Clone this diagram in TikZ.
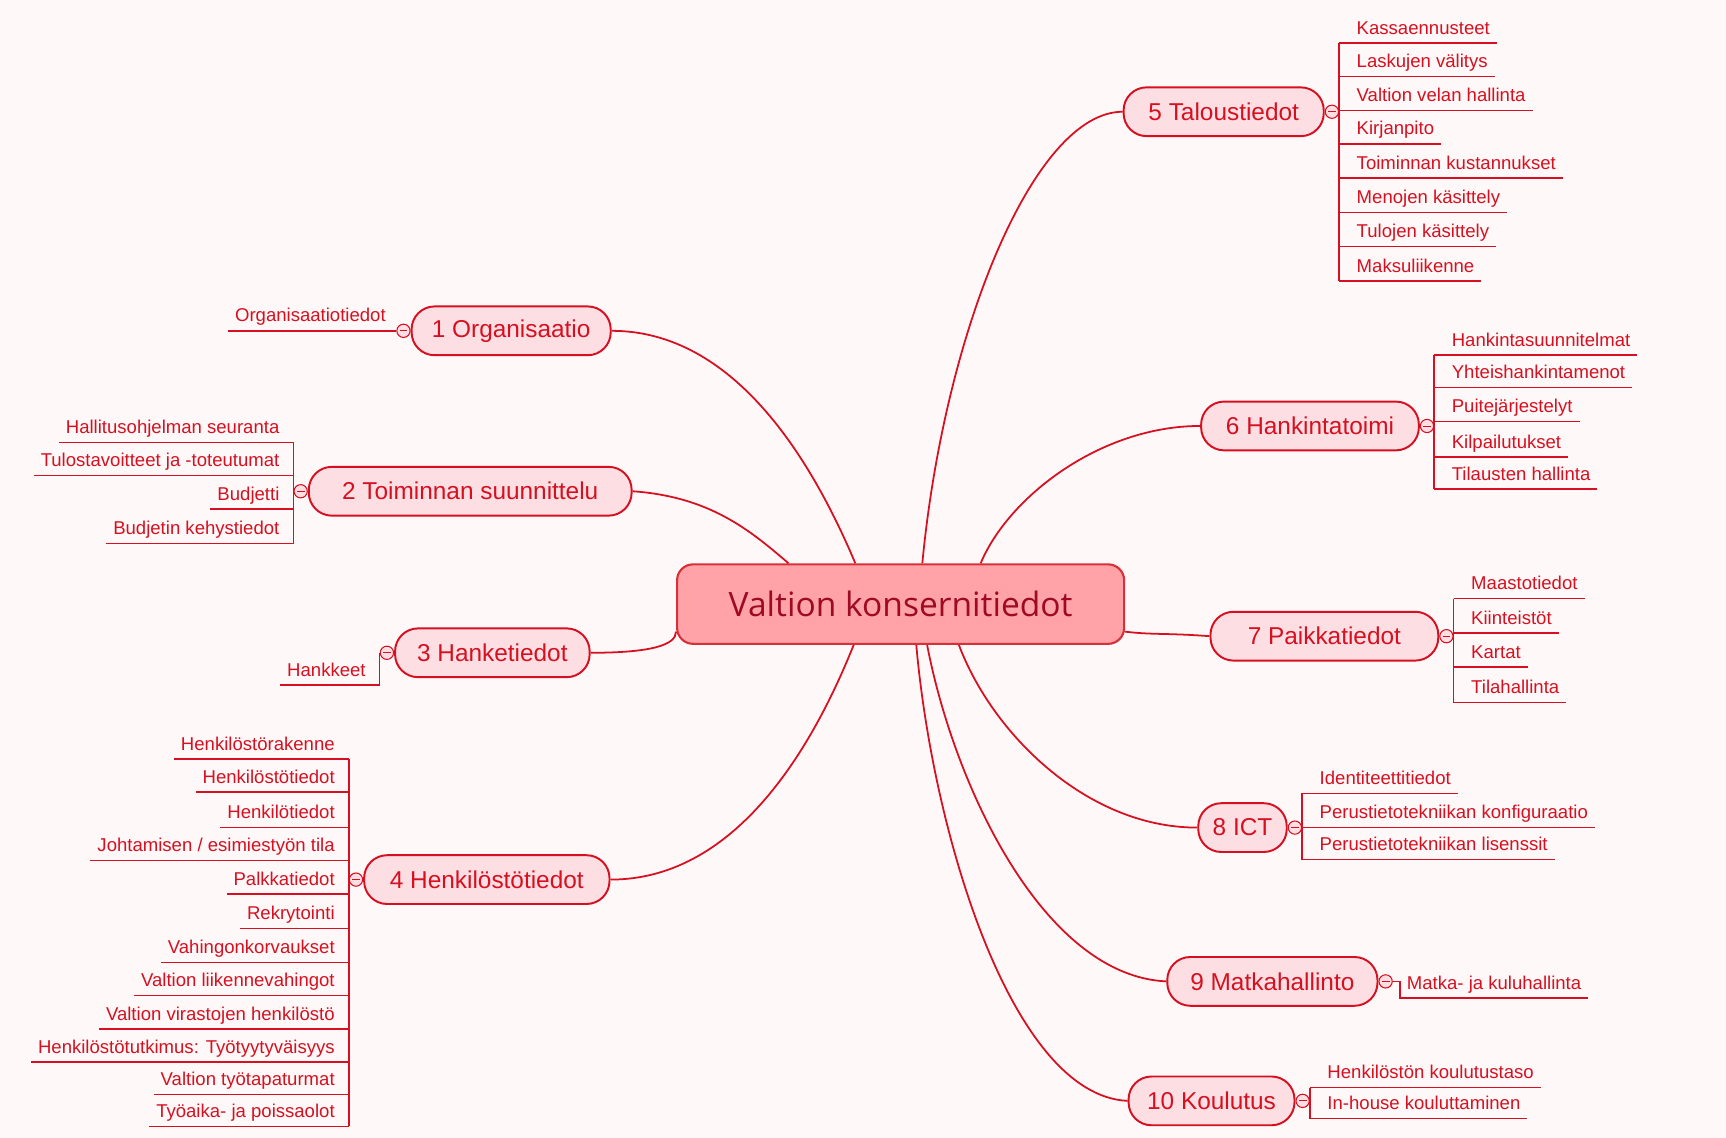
\documentclass[tikz,border=0pt]{standalone}
\usepackage{fontspec}
\setmainfont{Liberation Sans}
\newfontfamily\rootfont{Open Sans}
\usepackage{tikz}
\usetikzlibrary{positioning}
\definecolor{mmred}{RGB}{214,16,32}
\definecolor{mmpale}{RGB}{253,222,227}
\definecolor{mmroot}{RGB}{255,163,168}
\definecolor{mmrootline}{RGB}{216,48,56}
\definecolor{mmroottext}{RGB}{158,10,36}
\definecolor{mmbg}{RGB}{255,248,248}

\begin{document}
\begin{tikzpicture}[x=0.022cm, y=-0.022cm,
    root/.style={draw=mmrootline, fill=mmroot, line width=1.2pt, rounded corners=9pt,
        minimum width=8.89cm, minimum height=1.58cm, text=mmroottext,
        font=\rootfont\fontsize{19}{22}\selectfont},
    topic/.style={draw=mmred, fill=mmpale, line width=1.1pt, rounded corners=13pt,
        minimum height=0.97cm, inner xsep=3pt, text=mmred, font=\fontsize{13.8}{16}\selectfont},
    leaf/.style={text=mmred, inner xsep=3.8pt, inner ysep=2.5pt, text height=7.6pt,
        text depth=2.3pt, font=\fontsize{10.5}{12}\selectfont},
    knob/.style={circle, draw=mmred, fill=mmpale, line width=0.6pt, minimum size=7.5pt, inner sep=0pt,
        path picture={\draw[mmred, line width=0.5pt] ([xshift=-2.2pt]path picture bounding box.center)
            -- ([xshift=2.2pt]path picture bounding box.center);}},
    link/.style={draw=mmred, line width=1pt},
    twig/.style={draw=mmred, line width=0.8pt}]

    \useasboundingbox (0,0) rectangle (1560,1028.5);
    \fill[mmbg] (0,0) rectangle (1560,1028.5);

    % centre and main topics
    \node[root] (root) at (814,546) {Valtion konsernitiedot};
    \foreach \n/\x/\y/\w/\t in {1/462/299/3.96/1 Organisaatio, 2/425/444/6.42/2 Toiminnan suunnittelu,
            3/445/590/3.87/3 Hanketiedot, 4/440/795/4.88/4 Henkilöstötiedot,
            5/1106/101/3.98/5 Taloustiedot, 6/1184/385/4.33/6 Hankintatoimi,
            7/1197/575/4.53/7 Paikkatiedot, 8/1123/748/1.76/8 ICT,
            9/1150/887/4.18/9 Matkahallinto, 10/1095/995/3.3/10 Koulutus}
        \node[topic, minimum width=\w cm] (b\n) at (\x,\y) {\t};

    % curves to the centre
    \draw[link] (b1.east) .. controls +(110,0) and +(-40,-95) .. (root.138.7);
    \draw[link] (b2.east) .. controls +(70,5) and +(-35,-30) .. (root.160.9);
    \draw[link] (b3.east) .. controls +(55,0) and +(0,12) .. (root.187);
    \draw[link] (b4.east) .. controls +(110,0) and +(-40,100) .. (root.221.3);
    \draw[link] (b5.west) .. controls +(-80,0) and +(20,-210) .. (root.62.2);
    \draw[link] (b6.west) .. controls +(-90,0) and +(25,-60) .. (root.27.9);
    \draw[link] (b7.west) .. controls +(-40,-3) and +(25,3) .. (root.353.2);
    \draw[link] (b8.west) .. controls +(-100,0) and +(30,80) .. (root.325.3);
    \draw[link] (b9.west) .. controls +(-110,-5) and +(25,130) .. (root.303.7);
    \draw[link] (b10.west) .. controls +(-105,-5) and +(15,170) .. (root.291.3);

    % collapse buttons
    \foreach \n in {1,2,3,4}
        \node[knob, left=0pt of b\n] (c\n) {};
    \foreach \n in {5,6,7,8,9,10}
        \node[knob, right=0pt of b\n] (c\n) {};

    % left subtopics
    \foreach \y/\t [count=\i] in {299/Organisaatiotiedot}{
        \coordinate (k1-\i) at (c1.west |- 0,\y);
        \node[leaf, anchor=south east] (l1-\i) at ([xshift=-2pt]k1-\i) {\t};
        \draw[twig] (k1-\i) -- (l1-\i.south west);
    }
    \foreach \y/\t [count=\i] in {400/Hallitusohjelman seuranta, 430/Tulostavoitteet ja -toteutumat,
            460/Budjetti, 491/Budjetin kehystiedot}{
        \coordinate (k2-\i) at (c2.west |- 0,\y);
        \node[leaf, anchor=south east] (l2-\i) at ([xshift=-4pt]k2-\i) {\t};
        \draw[twig] (k2-\i) -- (l2-\i.south west);
    }
    \draw[twig] (k2-1) -- (k2-4);
    \foreach \y/\t [count=\i] in {619/Hankkeet}{
        \coordinate (k3-\i) at (c3.west |- 0,\y);
        \node[leaf, anchor=south east] (l3-\i) at ([xshift=-4pt]k3-\i) {\t};
        \draw[twig] (k3-\i) -- (l3-\i.south west);
    }
    \draw[twig] (c3.west) -- (k3-1);
    \foreach \y/\t [count=\i] in {686/Henkilöstörakenne, 716/Henkilöstötiedot, 748/Henkilötiedot,
            778/{Johtamisen / esimiestyön tila}, 808/Palkkatiedot, 839/Rekrytointi,
            870/Vahingonkorvaukset, 900/Valtion liikennevahingot, 930/Valtion virastojen henkilöstö,
            960/Henkilöstötutkimus: Työtyytyväisyys, 989/Valtion työtapaturmat, 1018/Työaika- ja poissaolot}{
        \coordinate (k4-\i) at (c4.west |- 0,\y);
        \node[leaf, anchor=south east] (l4-\i) at ([xshift=-4pt]k4-\i) {\t};
        \draw[twig] (k4-\i) -- (l4-\i.south west);
    }
    \draw[twig] (k4-1) -- (k4-12);

    % right subtopics
    \foreach \y/\t [count=\i] in {39/Kassaennusteet, 69/Laskujen välitys, 100/Valtion velan hallinta,
            130/Kirjanpito, 161/Toiminnan kustannukset, 192/Menojen käsittely,
            223/Tulojen käsittely, 254/Maksuliikenne}{
        \coordinate (k5-\i) at (c5.east |- 0,\y);
        \node[leaf, anchor=south west] (l5-\i) at ([xshift=6pt]k5-\i) {\t};
        \draw[twig] (k5-\i) -- (l5-\i.south east);
    }
    \draw[twig] (k5-1) -- (k5-8);
    \foreach \y/\t [count=\i] in {321/Hankintasuunnitelmat, 350/Yhteishankintamenot, 381/Puitejärjestelyt,
            413/Kilpailutukset, 442/Tilausten hallinta}{
        \coordinate (k6-\i) at (c6.east |- 0,\y);
        \node[leaf, anchor=south west] (l6-\i) at ([xshift=6pt]k6-\i) {\t};
        \draw[twig] (k6-\i) -- (l6-\i.south east);
    }
    \draw[twig] (k6-1) -- (k6-5);
    \foreach \y/\t [count=\i] in {541/Maastotiedot, 572/Kiinteistöt, 603/Kartat, 635/Tilahallinta}{
        \coordinate (k7-\i) at (c7.east |- 0,\y);
        \node[leaf, anchor=south west] (l7-\i) at ([xshift=6pt]k7-\i) {\t};
        \draw[twig] (k7-\i) -- (l7-\i.south east);
    }
    \draw[twig] (k7-1) -- (k7-4);
    \foreach \y/\t [count=\i] in {717/Identiteettitiedot, 748/Perustietotekniikan konfiguraatio,
            777/Perustietotekniikan lisenssit}{
        \coordinate (k8-\i) at (c8.east |- 0,\y);
        \node[leaf, anchor=south west] (l8-\i) at ([xshift=6pt]k8-\i) {\t};
        \draw[twig] (k8-\i) -- (l8-\i.south east);
    }
    \draw[twig] (k8-1) -- (k8-3);
    \coordinate (h9) at ([xshift=4pt]c9.east);
    \coordinate (k9-1) at (h9 |- 0,902);
    \node[leaf, anchor=south west] (l9-1) at (k9-1) {Matka- ja kuluhallinta};
    \draw[twig] (c9.east) -- (h9) -- (k9-1) -- (l9-1.south east);
    \foreach \y/\t [count=\i] in {983/Henkilöstön koulutustaso, 1011/In-house kouluttaminen}{
        \coordinate (k10-\i) at (c10.east |- 0,\y);
        \node[leaf, anchor=south west] (l10-\i) at ([xshift=6pt]k10-\i) {\t};
        \draw[twig] (k10-\i) -- (l10-\i.south east);
    }
    \draw[twig] (k10-1) -- (k10-2);
\end{tikzpicture}
\end{document}
